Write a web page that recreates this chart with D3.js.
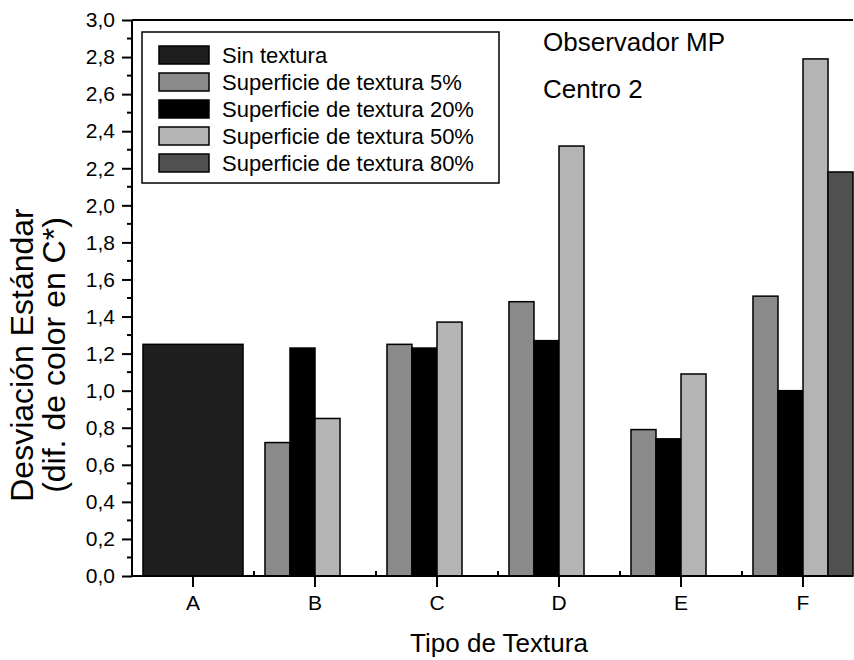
<!DOCTYPE html>
<html><head><meta charset="utf-8">
<script src="https://cdn.jsdelivr.net/npm/d3@7"></script>
<style>body{margin:0;background:#fff}svg{display:block}text{font-family:"Liberation Sans",Arial,sans-serif;fill:#000}</style>
</head><body><svg id="c" width="854" height="660"></svg>
<script>
const categories = ["A","B","C","D","E","F"];
const seriesNames = ["Sin textura","Superficie de textura 5%","Superficie de textura 20%","Superficie de textura 50%","Superficie de textura 80%"];
const sinTextura = [1.25, null, null, null, null, null];
const textura5  = [null, 0.72, 1.25, 1.48, 0.79, 1.51];
const textura20 = [null, 1.23, 1.23, 1.27, 0.74, 1.00];
const textura50 = [null, 0.85, 1.37, 2.32, 1.09, 2.79];
const textura80 = [null, null, null, null, null, 2.18];
const yTicks = [0,0.2,0.4,0.6,0.8,1.0,1.2,1.4,1.6,1.8,2.0,2.2,2.4,2.6,2.8,3.0];
const annotations = ["Observador MP","Centro 2"];
const xTitle = "Tipo de Textura";
const yTitle = ["Desviación Estándar","(dif. de color en C*)"];

const fills = ["#1e1e1e","#8a8a8a","#000000","#b4b4b4","#505050"];
const svg = d3.select("#c");
const L=132, R=853, T=20, B=576;
const x = d3.scaleBand().domain(categories).range([L, L+6*122]).paddingInner(0.18).paddingOuter(0.09);
const sub = d3.scaleBand().domain([1,2,3,4]).range([0, x.bandwidth()]);
const y = d3.scaleLinear().domain([0,3]).range([B,T]);
const fmt = d => d3.format(".1f")(d).replace(".", ",");

// bars
const g = svg.append("g");
const all = [sinTextura, textura5, textura20, textura50, textura80];
all.forEach((arr, si) => {
  arr.forEach((v, i) => {
    if (v == null) return;
    const x0 = si === 0 ? x(categories[i]) : x(categories[i]) + sub(si);
    const w = si === 0 ? x.bandwidth() : sub.bandwidth();
    g.append("rect").attr("x", x0).attr("y", y(v)).attr("width", w).attr("height", y(0)-y(v))
      .attr("fill", fills[si]).attr("stroke", "#000").attr("stroke-width", 1.5);
  });
});

// axes
const ax = svg.append("g");
ax.append("line").attr("x1",L).attr("x2",R).attr("y1",B).attr("y2",B).attr("stroke","#000").attr("stroke-width",2);
ax.append("line").attr("x1",L).attr("x2",R).attr("y1",T).attr("y2",T).attr("stroke","#000").attr("stroke-width",2);
ax.append("line").attr("x1",L).attr("x2",L).attr("y1",T).attr("y2",B).attr("stroke","#000").attr("stroke-width",2);
const yAxis = d3.axisLeft(y).tickValues(yTicks).tickFormat(fmt).tickSize(10).tickPadding(7);
const ya = svg.append("g").attr("transform",`translate(${L},0)`).call(yAxis);
ya.select(".domain").remove();
ya.selectAll(".tick line").attr("stroke-width",2);
ya.selectAll("text").style("font-size","21px");
// minor y ticks
const minor = d3.range(0.1, 3, 0.2);
svg.append("g").selectAll("line").data(minor).join("line")
  .attr("x1",L-5).attr("x2",L).attr("y1",d=>y(d)).attr("y2",d=>y(d)).attr("stroke","#000").attr("stroke-width",2);
const xAxis = d3.axisBottom(x).tickSize(11).tickPadding(8);
const xa = svg.append("g").attr("transform",`translate(0,${B})`).call(xAxis);
xa.select(".domain").remove();
xa.selectAll(".tick line").attr("stroke-width",2);
xa.selectAll("text").style("font-size","21px");
// minor x ticks (inside) between categories
const mids = categories.slice(1).map(c => x(c) + x.bandwidth()/2 - x.step()/2);
svg.append("g").selectAll("line").data(mids).join("line")
  .attr("x1",d=>d).attr("x2",d=>d).attr("y1",B).attr("y2",B-5).attr("stroke","#000").attr("stroke-width",2);

// titles
svg.append("text").attr("x",499).attr("y",652).attr("text-anchor","middle").style("font-size","26px").text(xTitle);
const yt = svg.append("text").attr("transform",`translate(0,355) rotate(-90)`).attr("text-anchor","middle").style("font-size","32px");
yt.append("tspan").attr("x",0).attr("y",33).text(yTitle[0]);
yt.append("tspan").attr("x",0).attr("y",65).text(yTitle[1]);

// annotations
svg.append("text").attr("x",543).attr("y",51).style("font-size","26px").text(annotations[0]);
svg.append("text").attr("x",543).attr("y",98).style("font-size","26px").text(annotations[1]);

// legend
const lg = svg.append("g");
lg.append("rect").attr("x",142).attr("y",32).attr("width",357).attr("height",151).attr("fill","#fff").attr("stroke","#000").attr("stroke-width",1.5);
seriesNames.forEach((n, i) => {
  const cy = 55 + i*27;
  lg.append("rect").attr("x",159).attr("y",cy-9).attr("width",50).attr("height",18).attr("fill",fills[i]).attr("stroke","#000").attr("stroke-width",1.5);
  lg.append("text").attr("x",222).attr("y",cy+8).style("font-size","22px").text(n);
});
</script></body></html>
